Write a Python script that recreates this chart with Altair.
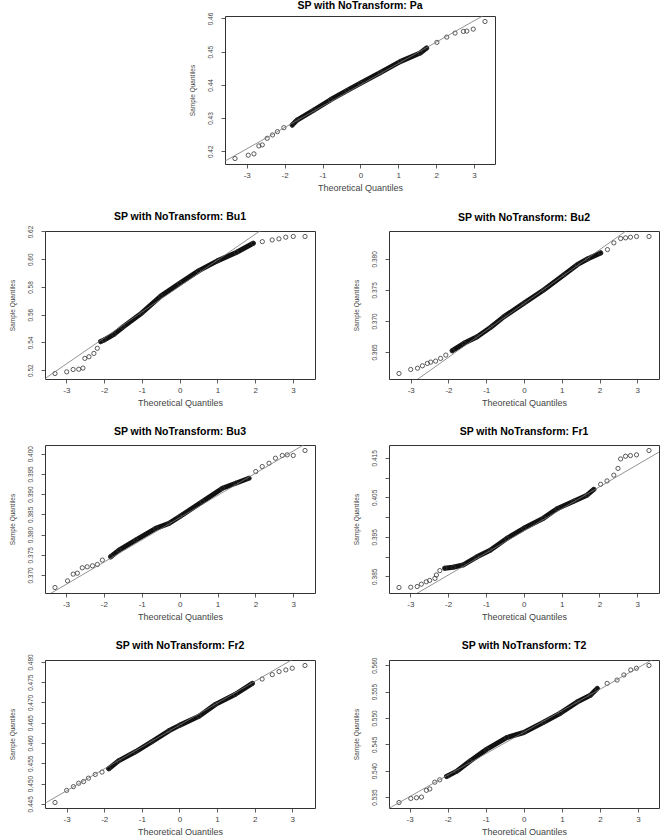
import altair as alt
import pandas as pd

FONT = "Liberation Sans"

# ---- data: theoretical quantile (x) / sample quantile (y) ----
pa_x = [-3.31, -2.96, -2.81, -2.68, -2.59, -2.46, -2.32, -2.19, -2.02, -1.80, -1.67, -1.23, -0.79, -0.35, 0.0, 0.53, 1.05, 1.58, 1.75, 2.02, 2.28, 2.50, 2.72, 2.81, 2.98, 3.29]
pa_y = [0.4178, 0.4188, 0.4192, 0.4216, 0.4219, 0.4239, 0.4249, 0.4259, 0.4271, 0.4279, 0.4294, 0.4324, 0.4355, 0.4383, 0.4405, 0.4437, 0.4470, 0.4496, 0.4511, 0.4528, 0.4544, 0.4556, 0.4561, 0.4562, 0.4568, 0.4591]

bu1_x = [-3.30, -2.99, -2.82, -2.67, -2.56, -2.51, -2.40, -2.27, -2.18, -2.09, -2.00, -1.74, -1.50, -1.00, -0.50, 0.0, 0.50, 1.00, 1.50, 1.95, 2.19, 2.45, 2.63, 2.81, 3.01, 3.32]
bu1_y = [0.5176, 0.5188, 0.5205, 0.5207, 0.5215, 0.5285, 0.5297, 0.5321, 0.5358, 0.5406, 0.5418, 0.5458, 0.5511, 0.5613, 0.5734, 0.5826, 0.5916, 0.5988, 0.6049, 0.6115, 0.6127, 0.6139, 0.6147, 0.6159, 0.6164, 0.6164]

bu2_x = [-3.31, -3.00, -2.82, -2.69, -2.56, -2.47, -2.34, -2.21, -2.07, -1.90, -1.59, -1.24, -0.88, -0.53, 0.0, 0.53, 1.06, 1.41, 1.68, 2.03, 2.21, 2.38, 2.56, 2.69, 2.82, 2.98, 3.31]
bu2_y = [0.36153, 0.36218, 0.36239, 0.36277, 0.36315, 0.36337, 0.36353, 0.36396, 0.36450, 0.36520, 0.36639, 0.36746, 0.36898, 0.37070, 0.37286, 0.37502, 0.37744, 0.37906, 0.37998, 0.38095, 0.38149, 0.38257, 0.38327, 0.38338, 0.38349, 0.38360, 0.38360]

bu3_x = [-3.29, -2.96, -2.81, -2.70, -2.57, -2.44, -2.30, -2.17, -2.04, -1.82, -1.60, -1.16, -0.63, -0.28, 0.0, 0.60, 1.13, 1.48, 1.83, 2.01, 2.18, 2.36, 2.53, 2.71, 2.84, 3.00, 3.31]
bu3_y = [0.36690, 0.36855, 0.37021, 0.37045, 0.37178, 0.37202, 0.37227, 0.37260, 0.37368, 0.37450, 0.37616, 0.37864, 0.38153, 0.38277, 0.38442, 0.38814, 0.39145, 0.39269, 0.39393, 0.39558, 0.39682, 0.39764, 0.39888, 0.39955, 0.39971, 0.39955, 0.40079]

fr1_x = [-3.30, -2.99, -2.82, -2.71, -2.58, -2.49, -2.35, -2.31, -2.22, -2.09, -1.87, -1.60, -1.25, -0.89, -0.45, 0.0, 0.52, 0.88, 1.32, 1.67, 1.85, 2.03, 2.20, 2.38, 2.49, 2.56, 2.69, 2.82, 2.98, 3.31]
fr1_y = [0.38215, 0.38223, 0.38240, 0.38300, 0.38360, 0.38395, 0.38446, 0.38532, 0.38643, 0.38703, 0.38729, 0.38789, 0.38986, 0.39157, 0.39457, 0.39714, 0.39971, 0.40211, 0.40400, 0.40554, 0.40700, 0.40828, 0.40914, 0.41060, 0.41231, 0.41471, 0.41539, 0.41556, 0.41574, 0.41685]

fr2_x = [-3.31, -3.00, -2.82, -2.68, -2.55, -2.42, -2.24, -2.06, -1.88, -1.62, -1.17, -0.73, -0.28, 0.0, 0.52, 0.96, 1.49, 1.94, 2.20, 2.47, 2.65, 2.83, 3.00, 3.34]
fr2_y = [0.44531, 0.44831, 0.44923, 0.45007, 0.45048, 0.45132, 0.45224, 0.45282, 0.45366, 0.45558, 0.45783, 0.46033, 0.46301, 0.46434, 0.46659, 0.46952, 0.47202, 0.47469, 0.47578, 0.47686, 0.47761, 0.47803, 0.47845, 0.47912]

t2_x = [-3.28, -2.97, -2.82, -2.69, -2.56, -2.47, -2.34, -2.21, -2.03, -1.77, -1.42, -0.98, -0.45, 0.0, 0.52, 0.96, 1.40, 1.75, 1.93, 2.19, 2.45, 2.63, 2.81, 2.96, 3.29]
t2_y = [0.53397, 0.53474, 0.53487, 0.53500, 0.53628, 0.53654, 0.53782, 0.53827, 0.53891, 0.53987, 0.54179, 0.54404, 0.54628, 0.54724, 0.54917, 0.55090, 0.55301, 0.55429, 0.55558, 0.55654, 0.55718, 0.55814, 0.55910, 0.55942, 0.55994]

# reference lines (intercept, slope)
line_pa = (0.4400, 0.00643)
line_bu1 = (0.5806, 0.0187)
line_bu2 = (0.3728, 0.00433)
line_bu3 = (0.38416, 0.0055)
line_fr1 = (0.39647, 0.00559)
line_fr2 = (0.4644, 0.00539)
line_t2 = (0.54729, 0.00407)

x_ticks = [-3, -2, -1, 0, 1, 2, 3]
yt_pa = [0.42, 0.43, 0.44, 0.45, 0.46]
yt_bu1 = [0.52, 0.54, 0.56, 0.58, 0.60, 0.62]
yt_bu2 = [0.365, 0.370, 0.375, 0.380]
yt_bu3 = [0.370, 0.375, 0.380, 0.385, 0.390, 0.395, 0.400]
yt_fr1 = [0.385, 0.390, 0.395, 0.400, 0.405, 0.410, 0.415]
yt_fr2 = [0.445, 0.450, 0.455, 0.460, 0.465, 0.470, 0.475, 0.480]
yt_t2 = [0.535, 0.540, 0.545, 0.550, 0.555, 0.560]

W, H = 270, 148
YLAB_FS = 6.5


def panel(title, xs, ys, line, yticks, dec, band, odd_only=False, base_off=8.0):
    df = pd.DataFrame({"x": xs, "y": ys})
    xr = max(xs) - min(xs)
    yr = max(ys) - min(ys)
    xdom = [min(xs) - 0.04 * xr, max(xs) + 0.04 * xr]
    ydom = [min(ys) - 0.04 * yr, max(ys) + 0.04 * yr]
    fmt = f".{dec}f"
    if odd_only:
        expr = f"round(datum.value*1000) % 10 == 5 ? format(datum.value, '{fmt}') : ''"
    else:
        expr = f"format(datum.value, '{fmt}')"
    # keep titles level: compensate for a rotated top label poking above the frame
    top = max(yticks)
    dist = (ydom[1] - top) / (ydom[1] - ydom[0]) * H
    half = 0.5 * YLAB_FS * (0.556 * (dec + 1) + 0.278)
    ext = max(0.0, half - dist)
    X = alt.X("x:Q", scale=alt.Scale(domain=xdom, nice=False, zero=False),
              axis=alt.Axis(values=x_ticks, labelExpr="'' + datum.value",
                            title="Theoretical Quantiles"))
    Y = alt.Y("y:Q", scale=alt.Scale(domain=ydom, nice=False, zero=False),
              axis=alt.Axis(values=yticks, labelExpr=expr, title="Sample Quantiles",
                            labelOverlap=False))
    band_df = df[(df.x >= band[0]) & (df.x <= band[1])]
    lay_band = alt.Chart(band_df).mark_line(
        color="#111", strokeWidth=5, strokeCap="round", strokeJoin="round",
    ).encode(x=X, y=Y)
    lay_pts = alt.Chart(df).mark_point(
        shape="circle", filled=False, size=18, strokeWidth=0.8, color="#333", opacity=1
    ).encode(x=X, y=Y)
    icpt, slope = line
    ldf = pd.DataFrame({"x": xdom, "y": [icpt + slope * v for v in xdom]})
    lay_line = alt.Chart(ldf).mark_line(color="#777", strokeWidth=0.8, clip=True).encode(x=X, y=Y)
    return alt.layer(lay_band, lay_pts, lay_line).properties(
        width=W, height=H,
        title=alt.TitleParams(title, anchor="middle", frame="group", offset=base_off - ext),
    )


spacer = alt.Chart(pd.DataFrame({"a": [0]})).mark_point(opacity=0).encode(
    x=alt.X("a:Q", axis=None), y=alt.Y("a:Q", axis=None)
).properties(width=180, height=10, view=alt.ViewBackground(stroke="transparent"))

p_pa = panel("SP with NoTransform: Pa", pa_x, pa_y, line_pa, yt_pa, 2, (-1.8, 1.76), base_off=4.8)
p_bu1 = panel("SP with NoTransform: Bu1", bu1_x, bu1_y, line_bu1, yt_bu1, 2, (-2.1, 2.0))
p_bu2 = panel("SP with NoTransform: Bu2", bu2_x, bu2_y, line_bu2, yt_bu2, 3, (-1.95, 2.05))
p_bu3 = panel("SP with NoTransform: Bu3", bu3_x, bu3_y, line_bu3, yt_bu3, 3, (-1.85, 1.85))
p_fr1 = panel("SP with NoTransform: Fr1", fr1_x, fr1_y, line_fr1, yt_fr1, 3, (-2.1, 1.9), odd_only=True)
p_fr2 = panel("SP with NoTransform: Fr2", fr2_x, fr2_y, line_fr2, yt_fr2, 3, (-1.9, 1.95))
p_t2 = panel("SP with NoTransform: T2", t2_x, t2_y, line_t2, yt_t2, 3, (-2.05, 1.95))

HS = 74
row1 = alt.hconcat(spacer, p_pa, spacing=0, bounds="flush")
row2 = alt.hconcat(p_bu1, p_bu2, spacing=HS, bounds="flush")
row3 = alt.hconcat(p_bu3, p_fr1, spacing=HS, bounds="flush")
row4 = alt.hconcat(p_fr2, p_t2, spacing=HS, bounds="flush")

chart = alt.vconcat(row1, row2, row3, row4, spacing=18).properties(
    padding={"left": 8, "top": 0, "right": 0, "bottom": 0},
    background="white",
).configure_view(
    stroke="#333", strokeWidth=1
).configure_axis(
    labelFont=FONT, titleFont=FONT, grid=False, domain=False,
    tickColor="#333", tickSize=4, tickWidth=0.8,
    labelColor="#444", titleColor="#444", titleFontWeight="normal",
).configure_axisX(
    labelFontSize=8, titleFontSize=9, labelPadding=3, titlePadding=4,
).configure_axisY(
    labelFontSize=YLAB_FS, titleFontSize=6.5, labelAngle=270, labelAlign="center",
    labelBaseline="bottom", labelPadding=8, titlePadding=12,
).configure_title(
    font=FONT, fontSize=10.5, fontWeight="bold", color="#000",
)

chart.save("out.html", embed_options={"renderer": "svg", "actions": False})
